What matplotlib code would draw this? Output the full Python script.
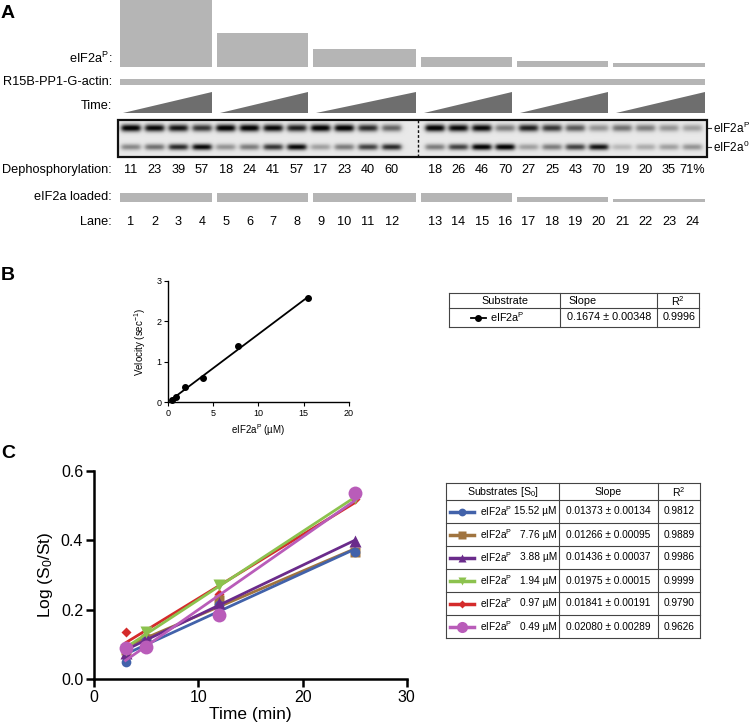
import numpy as np
import matplotlib
matplotlib.use('Agg')
import matplotlib.pyplot as plt

plt.rcParams['font.family'] = ['Liberation Sans', 'DejaVu Sans']
plt.rcParams['mathtext.fontset'] = 'custom'
plt.rcParams['mathtext.rm'] = 'Liberation Sans'
plt.rcParams['mathtext.it'] = 'Liberation Sans:italic'
plt.rcParams['mathtext.bf'] = 'Liberation Sans:bold'
plt.rcParams['mathtext.default'] = 'regular'

# ---------------- data ----------------
group_conc = [15.52, 7.76, 3.88, 1.94, 0.97, 0.49]
eif2ap_level = [67, 34, 18, 10, 6, 4]          # relative amount of eIF2aP per group
loaded_level = [9, 9, 9, 9, 5, 3]               # relative eIF2a loaded per group
lanes = list(range(1, 25))
dephos = [11, 23, 39, 57, 18, 24, 41, 57, 17, 23, 40, 60,
          18, 26, 46, 70, 27, 25, 43, 70, 19, 20, 35, 71]
band_p = [1.0, 0.95, 0.9, 0.75, 1.0, 1.0, 0.95, 0.85, 1.0, 1.0, 0.8, 0.55,
          1.0, 0.95, 0.95, 0.45, 0.85, 0.75, 0.6, 0.35, 0.5, 0.45, 0.35, 0.3]
band_0 = [0.4, 0.5, 0.8, 0.95, 0.35, 0.45, 0.75, 0.95, 0.3, 0.45, 0.7, 0.8,
          0.45, 0.7, 1.0, 1.0, 0.3, 0.45, 0.7, 0.9, 0.2, 0.25, 0.3, 0.35]

b_conc = [0.49, 0.97, 1.94, 3.88, 7.76, 15.52]
b_velocity = [0.06, 0.13, 0.38, 0.59, 1.40, 2.57]
b_slope = "0.1674 ± 0.00348"
b_r2 = "0.9996"

c_time = [3, 5, 12, 25]
c_conc_labels = ["15.52 µM", "7.76 µM", "3.88 µM", "1.94 µM", "0.97 µM", "0.49 µM"]
c_s1552 = [0.050, 0.113, 0.214, 0.366]
c_s776 = [0.085, 0.117, 0.229, 0.368]
c_s388 = [0.075, 0.120, 0.220, 0.397]
c_s194 = [0.085, 0.135, 0.272, 0.522]
c_s097 = [0.135, 0.125, 0.245, 0.520]
c_s049 = [0.090, 0.094, 0.185, 0.538]
c_slopes = ["0.01373 ± 0.00134", "0.01266 ± 0.00095", "0.01436 ± 0.00037",
            "0.01975 ± 0.00015", "0.01841 ± 0.00191", "0.02080 ± 0.00289"]
c_r2 = ["0.9812", "0.9889", "0.9986", "0.9999", "0.9790", "0.9626"]

c_series = [c_s1552, c_s776, c_s388, c_s194, c_s097, c_s049]
c_colors = ['#4262aa', '#a0743f', '#6a2b8b', '#8cc24e', '#d42b2b', '#b95cb9']
c_markers = ['o', 's', '^', 'v', 'D', 'o']
c_ms = [7, 7, 8, 8, 5, 10]
c_z = [5, 4, 6, 7, 3, 8]

# ---------------- figure ----------------
W, H = 749, 724
fig = plt.figure(figsize=(W / 100, H / 100), dpi=100)
bg = fig.add_axes([0, 0, 1, 1])
bg.set_xlim(0, W)
bg.set_ylim(H, 0)
bg.axis('off')

LGRAY = '#b5b5b5'
DGRAY = '#6e6e6e'
fsA = 9.2

# panel labels
for lab, (x, y) in zip("ABC", [(8, 14), (8, 275), (8, 453)]):
    bg.text(x, y, lab, fontsize=14, fontweight='bold', ha='center', va='center')

# group spans (layout)
g_left = np.array([120, 217, 313, 421, 517, 613])
g_right = np.array([212, 308, 416, 512, 608, 705])
g_w = g_right - g_left
g_c = (g_left + g_right) / 2

# eIF2aP amount bars
base = 67
bg.bar(g_c, eif2ap_level, bottom=base - np.array(eif2ap_level), width=g_w,
       color=LGRAY, edgecolor='none')
# R15B-PP1-G-actin bar
bg.bar((g_left[0] + g_right[-1]) / 2, 6, bottom=79, width=g_right[-1] - g_left[0],
       color=LGRAY, edgecolor='none')
# Time wedges
for l, r in zip(g_left, g_right):
    bg.fill([l + 3, r, r], [113, 113, 92], color=DGRAY, lw=0)

# left labels
xl = 112
bg.text(xl, 58, 'eIF2a$^{P}$:', ha='right', va='center', fontsize=fsA)
bg.text(xl, 82, 'R15B-PP1-G-actin:', ha='right', va='center', fontsize=fsA)
bg.text(xl, 106, 'Time:', ha='right', va='center', fontsize=fsA)
bg.text(xl, 170, 'Dephosphorylation:', ha='right', va='center', fontsize=fsA)
bg.text(xl, 197, 'eIF2a loaded:', ha='right', va='center', fontsize=fsA)
bg.text(xl, 222, 'Lane:', ha='right', va='center', fontsize=fsA)

# lane positions (gel spliced into two halves)
lane_x = np.array([131 + k * 23.7 if k < 12 else 435 + (k - 12) * 23.4 for k in range(24)])

# gel image built from band intensities
gx0, gx1, gy0, gy1 = 118, 707, 120, 157
gxs = np.arange(gx0, gx1, 0.5) + 0.25
gys = np.arange(gy0, gy1, 0.5) + 0.25
GX, GY = np.meshgrid(gxs, gys)
dens = np.full(GX.shape, 0.09)
for vals, yc, sy in [(band_p, 128, 3.6), (band_0, 147, 3.1)]:
    for x, v in zip(lane_x, vals):
        px = 1 / (1 + np.exp((np.abs(GX - x) - 9.3) / 1.3))
        py = np.exp(-((GY - yc) / sy) ** 2)
        dens = dens + 0.97 * v * px * py
dens = np.clip(dens, 0, 1)
bg.imshow(dens, cmap='gray_r', vmin=0, vmax=1.02, extent=[gx0, gx1, gy1, gy0],
          interpolation='bilinear', aspect='auto', zorder=2)
gel = plt.Rectangle((gx0, gy0), gx1 - gx0, gy1 - gy0, facecolor='none',
                    edgecolor='#111111', lw=1.6, zorder=4)
bg.add_patch(gel)
bg.set_xlim(0, W)
bg.set_ylim(H, 0)
bg.plot([418, 418], [gy0, gy1], color='#111111', lw=1, ls=(0, (2, 1.5)), zorder=4)
for yy, lab in [(128, 'eIF2a$^{P}$'), (147, 'eIF2a$^{0}$')]:
    bg.plot([707, 711], [yy, yy], color='#333333', lw=0.8)
    bg.text(713, yy, lab, ha='left', va='center', fontsize=8.5)

# dephosphorylation values and lane numbers
for i, (x, d, ln) in enumerate(zip(lane_x, dephos, lanes)):
    txt = f"{d}%" if i == len(dephos) - 1 else f"{d}"
    bg.text(x, 170, txt, ha='center', va='center', fontsize=fsA)
    bg.text(x, 222, f"{ln}", ha='center', va='center', fontsize=fsA)

# eIF2a loaded bars
bg.bar(g_c, loaded_level, bottom=202 - np.array(loaded_level), width=g_w,
       color=LGRAY, edgecolor='none')

# ---------------- panel B ----------------
axB = fig.add_axes([167.7 / W, 1 - 402.3 / H, 181.3 / W, 121.6 / H])
axB.set_xlim(0, 20)
axB.set_ylim(0, 3)
pB = np.polyfit(b_conc, b_velocity, 1)
xx = np.array([min(b_conc), max(b_conc)])
axB.plot(xx, np.polyval(pB, xx), color='black', lw=1.3)
axB.plot(b_conc, b_velocity, 'o', color='black', ms=4, clip_on=False)
for s in ['top', 'right']:
    axB.spines[s].set_visible(False)
for s in ['left', 'bottom']:
    axB.spines[s].set_linewidth(1)
axB.set_xticks([0, 5, 10, 15, 20])
axB.set_yticks([0, 1, 2, 3])
axB.tick_params(labelsize=6.5, length=3, width=0.8, pad=1.5)
axB.set_xlabel('eIF2a$^{P}$ (µM)', fontsize=7, labelpad=3)
axB.set_ylabel('Velocity (sec$^{-1}$)', fontsize=7, labelpad=6)

# table B
tc = '#444444'
tl = 0.8
xb = [449, 560, 657, 699]
yb = [293, 308, 327]
for y in yb:
    bg.plot([xb[0], xb[-1]], [y, y], color=tc, lw=tl)
for x in xb:
    bg.plot([x, x], [yb[0], yb[-1]], color=tc, lw=tl)
fsT = 7.8
bg.text((xb[0] + xb[1]) / 2, (yb[0] + yb[1]) / 2 + 0.5, 'Substrate', ha='center', va='center', fontsize=fsT)
bg.text(568, (yb[0] + yb[1]) / 2 + 0.5, 'Slope', ha='left', va='center', fontsize=fsT)
bg.text((xb[2] + xb[3]) / 2, (yb[0] + yb[1]) / 2 + 0.5, 'R$^2$', ha='center', va='center', fontsize=fsT)
yr = (yb[1] + yb[2]) / 2
bg.plot([471, 486], [yr, yr], color='black', lw=1.3)
bg.plot(478, yr, 'o', color='black', ms=4)
bg.text(490, yr, 'eIF2a$^{P}$', ha='left', va='center', fontsize=fsT)
bg.text(567, yr, b_slope, ha='left', va='center', fontsize=fsT)
bg.text((xb[2] + xb[3]) / 2 + 1, yr, b_r2, ha='center', va='center', fontsize=fsT)

# ---------------- panel C ----------------
axC = fig.add_axes([94.3 / W, 1 - 679.3 / H, 312.4 / W, 208.3 / H])
axC.set_xlim(0, 30)
axC.set_ylim(0, 0.6)
tt = np.array([min(c_time), max(c_time)])
for vals, col, mk, ms, z in zip(c_series, c_colors, c_markers, c_ms, c_z):
    p = np.polyfit(c_time, vals, 1)
    axC.plot(tt, np.polyval(p, tt), color=col, lw=2, zorder=z)
    axC.plot(c_time, vals, mk, color=col, ms=ms, zorder=z + 0.5, mec='none')
for s in ['top', 'right']:
    axC.spines[s].set_visible(False)
for s in ['left', 'bottom']:
    axC.spines[s].set_linewidth(1.8)
axC.set_xticks([0, 10, 20, 30])
axC.set_yticks([0.0, 0.2, 0.4, 0.6])
axC.set_yticklabels(['0.0', '0.2', '0.4', '0.6'])
axC.tick_params(labelsize=11.5, length=6, width=1.8, pad=2)
axC.set_xlabel('Time (min)', fontsize=12.5, labelpad=1)
axC.set_ylabel('Log (S$_0$/St)', fontsize=12.5, labelpad=4)

# table C
xc = [446, 559, 658, 700]
yc = [483, 500, 523, 546, 569, 592, 615, 638]
for y in yc:
    bg.plot([xc[0], xc[-1]], [y, y], color=tc, lw=tl)
for x in xc:
    bg.plot([x, x], [yc[0], yc[-1]], color=tc, lw=tl)
fsC = 7.3
yh = (yc[0] + yc[1]) / 2 + 0.5
bg.text((xc[0] + xc[1]) / 2, yh, 'Substrates [S$_0$]', ha='center', va='center', fontsize=fsC + 0.3)
bg.text((xc[1] + xc[2]) / 2, yh, 'Slope', ha='center', va='center', fontsize=fsC + 0.3)
bg.text((xc[2] + xc[3]) / 2, yh, 'R$^2$', ha='center', va='center', fontsize=fsC + 0.3)
for i in range(6):
    y = (yc[i + 1] + yc[i + 2]) / 2
    bg.plot([450, 474], [y, y], color=c_colors[i], lw=2.5)
    bg.plot(462, y, c_markers[i], color=c_colors[i], ms=c_ms[i] * 0.8, mec='none')
    bg.text(480, y, 'eIF2a$^{P}$', ha='left', va='center', fontsize=fsC)
    bg.text(557, y, c_conc_labels[i], ha='right', va='center', fontsize=fsC)
    bg.text((xc[1] + xc[2]) / 2, y, c_slopes[i], ha='center', va='center', fontsize=fsC)
    bg.text((xc[2] + xc[3]) / 2, y, c_r2[i], ha='center', va='center', fontsize=fsC)

fig.savefig('out.png', dpi=100)
